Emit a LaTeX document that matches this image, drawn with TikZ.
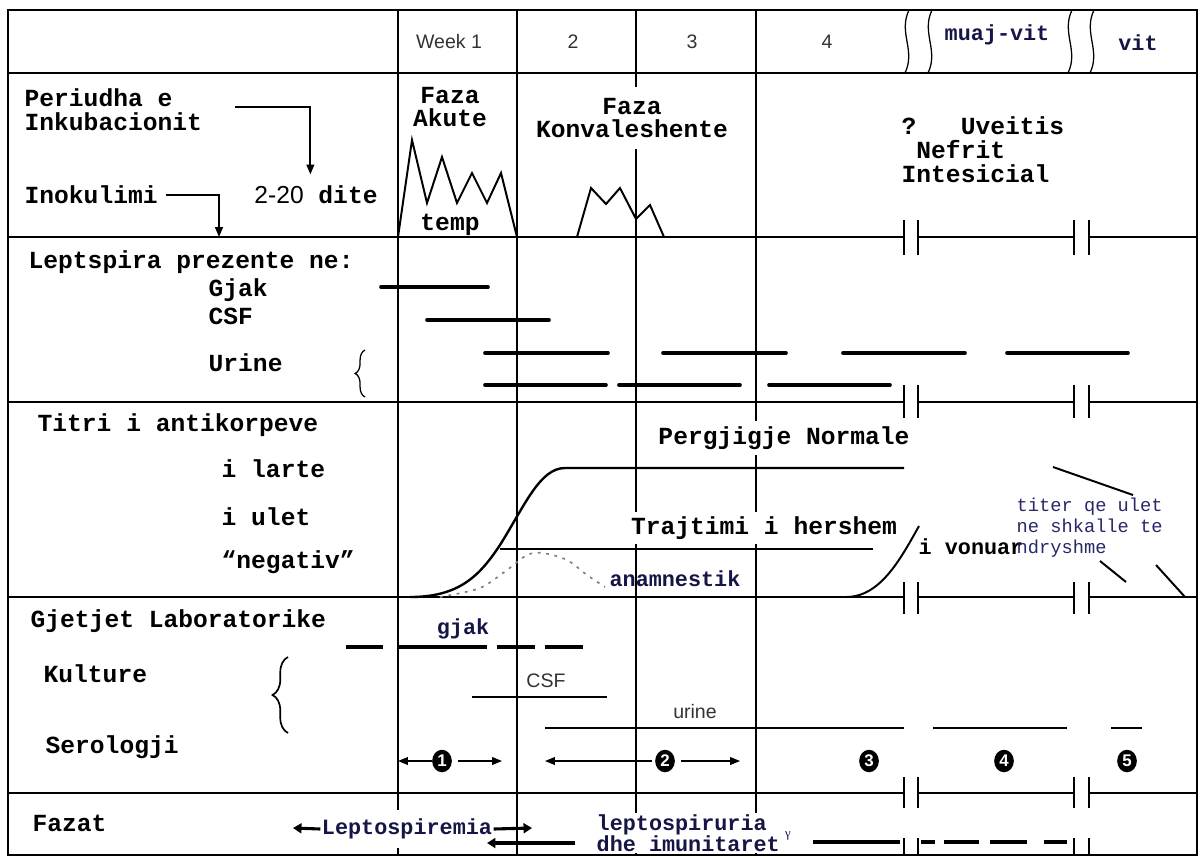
\documentclass[tikz,border=0pt]{standalone}
\usepackage{fontspec}
\setmainfont{Liberation Serif}
\setsansfont{Liberation Sans}
\newfontfamily\lblfont{Liberation Mono}
\usetikzlibrary{arrows.meta,calc,positioning,decorations.pathreplacing}

\definecolor{inkblue}{RGB}{22,22,70}
\definecolor{titerblue}{RGB}{40,40,105}

\tikzset{
  gridline/.style={line width=0.9pt},
  lbl/.style={font=\lblfont\bfseries\fontsize{17.5}{17}\selectfont,inner sep=1pt},
  lblb/.style={font=\lblfont\bfseries\fontsize{15.5}{15}\selectfont,text=inkblue,inner sep=1pt},
  titerlbl/.style={font=\lblfont\fontsize{13.3}{15}\selectfont,text=titerblue,inner sep=1pt},
  sanslbl/.style={font=\sffamily\fontsize{13.9}{15}\selectfont,text=black!80,inner sep=1pt},
  lepbar/.style={line width=2.6pt,line cap=round},
  labbar/.style={line width=2.4pt},
  curveline/.style={line width=1.4pt},
  arrtip/.style={line width=0.9pt,-{Triangle[width=5.5pt,length=7pt]}},
  fatarrow/.style={line width=2.2pt,-{Triangle[width=7pt,length=6pt]}},
  phasenum/.style={ellipse,fill=black,text=white,inner sep=0pt,minimum width=14pt,minimum height=16pt,
    font=\sffamily\bfseries\fontsize{12}{12}\selectfont},
}
\usetikzlibrary{shapes.geometric}

\begin{document}
\begin{tikzpicture}[x=0.025cm,y=-0.025cm]
\useasboundingbox (0,0) rectangle (1203,857);
% frame, rows and week columns
\draw[line width=1.5pt] (8,10) rectangle (1197,855);
\draw[gridline] (8,73) -- (1197,73);
\foreach \yy in {237,402,597,793}{
  \draw[gridline] (8,\yy) -- (904,\yy) (918,\yy) -- (1074,\yy) (1089,\yy) -- (1197,\yy);
}
\foreach \xx in {904,918,1074,1089}{
  \draw[gridline] (\xx,220) -- (\xx,255) (\xx,385) -- (\xx,418) (\xx,582) -- (\xx,614)
    (\xx,777) -- (\xx,808) (\xx,838) -- (\xx,855);
}
\foreach \xx in {398,517,636,756}{
  \draw[gridline] (\xx,10) -- (\xx,855);
}
\foreach \xx in {907,930,1070,1092}{
  \draw[gridline] (\xx+2,10) .. controls (\xx-9,33) and (\xx+9,50) .. (\xx-2,73);
}

% header
\node[sanslbl] (wk1) at (449,42) {Week 1};
\node[sanslbl] (wk2) at (573,42) {2};
\node[sanslbl] (wk3) at (692,42) {3};
\node[sanslbl] (wk4) at (827,42) {4};
\node[lblb] (muaj) at (997,35) {muaj-vit};
\node[lblb] (vit) at (1138,43) {vit};

% incubation and phases
\node[lbl,anchor=west,align=left] (periudha) at (23,110) {Periudha e\\Inkubacionit};
\node[lbl,anchor=west] (inokulimi) at (23,195) {Inokulimi};
\node[lbl] (dite) at (316,195) {{\sffamily\mdseries 2-20} dite};
\coordinate (inokpt) at (219,237);
\draw[arrtip,line width=1.3pt] ([xshift=5pt]inokulimi.east) -| (inokpt);
\draw[arrtip,line width=1.3pt] ([xshift=22pt,yshift=2pt]periudha.east) -| ([xshift=-4pt,yshift=7pt]dite.north);
\node[lbl,align=center] (akute) at (450,107) {Faza\\Akute};
\node[lbl] (temp) at (450,225) {temp};
\draw[curveline] (398,237) -- (412,140) -- (427,203) -- (442,157) -- (457,203) -- (472,173)
  -- (487,203) -- (501,173) -- (517,237);
\draw[curveline] (577,237) -- (591,188) -- (606,204) -- (620,188) -- (636,219) -- (650,205) -- (664,237);
\node[lbl,align=center,fill=white,inner ysep=8pt] (konval) at (632,118) {Faza\\Konvaleshente};
\node[lbl,anchor=north west,align=left] (uveitis) at (900,115) {?~~~Uveitis\\~Nefrit\\Intesicial};

% leptospira present
\node[lbl,anchor=west] (lepts) at (27,262) {Leptspira prezente ne:};
\node[lbl,anchor=west] (gjak) at (207,290) {Gjak};
\node[lbl,anchor=west] (csf) at (207,316) {CSF};
\node[lbl,anchor=west] (urine) at (207,363) {Urine};
\draw[decorate,decoration={brace,amplitude=7pt},gridline] (365,397) -- (365,350);
\draw[lepbar] (381,287) -- (488,287);
\draw[lepbar] (427,320) -- (549,320);
\foreach \a/\b in {485/608,663/786,843/965,1007/1128}
  \draw[lepbar] (\a,353) -- (\b,353);
\foreach \a/\b in {485/606,619/740,769/890}
  \draw[lepbar] (\a,385) -- (\b,385);

% antibody titre
\node[lbl,anchor=west] (titri) at (36,425) {Titri i antikorpeve};
\node[lbl,anchor=west] (larte) at (220,469) {i larte};
\node[lbl,anchor=west] (ulet) at (220,517) {i ulet};
\node[lbl,anchor=west] (negativ) at (220,562) {“negativ”};
\draw[curveline,line width=1.7pt] (410,597) .. controls (460,597) and (480,575) .. (500,545)
  .. controls (525,505) and (540,468) .. (565,468) -- (904,468);
\draw[gridline] (500,549) -- (873,549);
\draw[gray,line width=1.2pt,dash pattern=on 2pt off 4pt] plot[smooth] coordinates
  {(440,597) (480,588) (507,570) (527,555) (543,553) (567,560) (587,575) (605,587)};
\draw[curveline] (846,597) .. controls (880,597) and (900,560) .. (919,526);
\draw[curveline] (1053,467) -- (1133,495);
\draw[curveline] (1100,561) -- (1126,582);
\draw[curveline] (1156,565) -- (1185,597);
\node[lbl,fill=white,inner ysep=4pt] (pergj) at (784,438) {Pergjigje Normale};
\node[lbl,fill=white,inner ysep=3pt] (trajt) at (764,528) {Trajtimi i hershem};
\node[lblb] (anamn) at (675,579) {anamnestik};
\node[lblb,anchor=west,text=black] (vonuar) at (917,547) {i vonuar};
\node[titerlbl,anchor=north west,align=left] (titer) at (1015,496) {titer qe ulet\\ne shkalle te\\ndryshme};

% laboratory findings
\node[lbl,anchor=west] (gjetjet) at (29,621) {Gjetjet Laboratorike};
\node[lbl,anchor=west] (kulture) at (42,674) {Kulture};
\node[lbl,anchor=west] (serologji) at (44,747) {Serologji};
\draw[decorate,decoration={brace,amplitude=11pt},line width=1.2pt] (288,733) -- (288,657);
\node[lblb] (gjaklab) at (463,629) {gjak};
\foreach \a/\b in {346/383,398/487,497/535,545/583}
  \draw[labbar] (\a,647) -- (\b,647);
\node[sanslbl] (csflab) at (546,681) {CSF};
\draw[gridline] (472,697) -- (607,697);
\node[sanslbl] (urinelab) at (695,712) {urine};
\foreach \a/\b in {545/904,933/1067,1111/1142}
  \draw[gridline] (\a,728) -- (\b,728);
\node[phasenum] (ph1) at (442,761) {1};
\node[phasenum] (ph2) at (665,761) {2};
\node[phasenum] (ph3) at (869,761) {3};
\node[phasenum] (ph4) at (1004,761) {4};
\node[phasenum] (ph5) at (1127,761) {5};
\coordinate (ph1l) at (398,761);
\coordinate (ph1r) at (502,761);
\coordinate (ph2l) at (545,761);
\coordinate (ph2r) at (740,761);
\draw[arrtip] (ph1.west) -- (ph1l);
\draw[arrtip] ([xshift=4pt]ph1.east) -- (ph1r);
\draw[arrtip] ([xshift=-2pt]ph2.west) -- (ph2l);
\draw[arrtip] ([xshift=4pt]ph2.east) -- (ph2r);

% phases
\node[lbl,anchor=west] (fazat) at (31,823) {Fazat};
\node[lblb,fill=white,inner ysep=6pt] (leptemia) at (407,829) {Leptospiremia};
\coordinate (leptl) at (293,828);
\coordinate (leptr) at (532,828);
\draw[fatarrow] (leptemia.west) -- (leptl);
\draw[fatarrow] (leptemia.east) -- (leptr);
\node[lblb,fill=white,anchor=west,align=left] (leptur) at (595,833) {leptospiruria\\dhe imunitaret};
\node[font=\fontsize{9}{9}\selectfont,text=inkblue,inner sep=0pt] (gamma) at (788,836) {γ};
\coordinate (immA) at (575,843);
\coordinate (immB) at (487,843);
\draw[fatarrow] (immA) -- (immB);
\draw[line width=2.2pt] (813,842) -- (900,842);
\foreach \a/\b in {921/935,944/979,990/1027,1044/1067}
  \draw[line width=2.2pt] (\a,842) -- (\b,842);
\end{tikzpicture}
\end{document}
